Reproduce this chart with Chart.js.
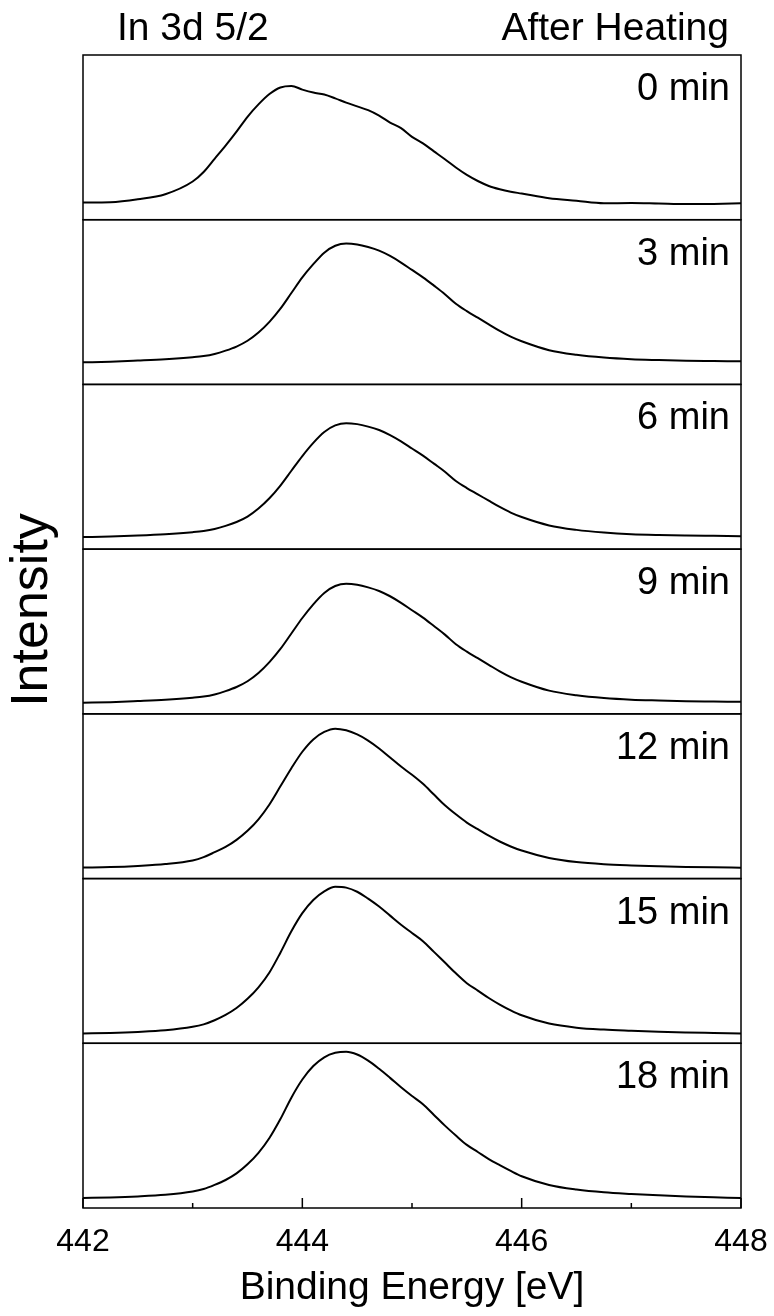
<!DOCTYPE html>
<html>
<head>
<meta charset="utf-8">
<title>In 3d 5/2 After Heating</title>
<script src="https://cdn.jsdelivr.net/npm/chart.js@4.4.1/dist/chart.umd.min.js"></script>
<style>
  html, body { margin: 0; padding: 0; background: #fff; }
  #wrap { width: 774px; height: 1316px; position: relative; }
</style>
</head>
<body>
<div id="wrap"><canvas id="xpsChart"></canvas></div>
<script>
// Binding energy grid [eV] (denser around the peak)
const energies = [442.0, 442.25, 442.5, 442.75,
    443.0, 443.1, 443.2, 443.3, 443.4, 443.5, 443.6, 443.7, 443.8, 443.9,
    444.0, 444.1, 444.2, 444.3, 444.4, 444.5, 444.6, 444.7, 444.8, 444.9,
    445.0, 445.1, 445.2, 445.3, 445.4, 445.5, 445.6, 445.7, 445.8, 445.9,
    446.0, 446.25, 446.5, 446.75, 447.0, 447.25, 447.5, 447.75, 448.0];

// Heating time of each panel, top to bottom
const panelLabels = ["0 min", "3 min", "6 min", "9 min", "12 min", "15 min", "18 min"];

// Intensity (fraction of panel height) for each heating time
const int0min = [0.104, 0.106, 0.124, 0.155,
    0.232, 0.29, 0.37, 0.45, 0.535, 0.625, 0.70, 0.763, 0.803, 0.812,
    0.79, 0.772, 0.76, 0.737, 0.711, 0.688, 0.665, 0.632, 0.59, 0.556,
    0.503, 0.463, 0.415, 0.367, 0.317, 0.272, 0.235, 0.205, 0.185, 0.17,
    0.159, 0.13, 0.115, 0.10, 0.101, 0.098, 0.095, 0.096, 0.10];
const int3min = [0.134, 0.138, 0.145, 0.153,
    0.165, 0.172, 0.185, 0.205, 0.23, 0.265, 0.315, 0.38, 0.46, 0.555,
    0.65, 0.73, 0.80, 0.842, 0.856, 0.85, 0.834, 0.812, 0.78, 0.74,
    0.695, 0.65, 0.60, 0.548, 0.49, 0.445, 0.405, 0.365, 0.325, 0.29,
    0.262, 0.208, 0.18, 0.163, 0.153, 0.148, 0.144, 0.142, 0.14];
const int6min = [0.073, 0.077, 0.083, 0.091,
    0.103, 0.11, 0.122, 0.141, 0.165, 0.198, 0.247, 0.309, 0.386, 0.476,
    0.565, 0.645, 0.711, 0.751, 0.765, 0.759, 0.744, 0.723, 0.692, 0.654,
    0.611, 0.568, 0.519, 0.47, 0.414, 0.371, 0.333, 0.294, 0.256, 0.222,
    0.195, 0.144, 0.117, 0.101, 0.091, 0.086, 0.083, 0.081, 0.079];
const int9min = [0.067, 0.071, 0.078, 0.086,
    0.098, 0.105, 0.118, 0.138, 0.163, 0.198, 0.248, 0.314, 0.394, 0.488,
    0.582, 0.665, 0.734, 0.776, 0.79, 0.784, 0.768, 0.746, 0.714, 0.674,
    0.629, 0.584, 0.533, 0.481, 0.423, 0.378, 0.338, 0.298, 0.258, 0.223,
    0.195, 0.141, 0.113, 0.096, 0.086, 0.081, 0.077, 0.075, 0.073];
const int12min = [0.067, 0.07, 0.077, 0.088,
    0.11, 0.13, 0.16, 0.192, 0.235, 0.29, 0.36, 0.45, 0.56, 0.67,
    0.77, 0.845, 0.89, 0.91, 0.90, 0.875, 0.838, 0.79, 0.735, 0.68,
    0.63, 0.575, 0.51, 0.445, 0.39, 0.34, 0.30, 0.26, 0.225, 0.195,
    0.17, 0.125, 0.10, 0.087, 0.08, 0.075, 0.071, 0.068, 0.066];
const int15min = [0.06, 0.063, 0.069, 0.079,
    0.10, 0.115, 0.14, 0.172, 0.214, 0.27, 0.34, 0.43, 0.55, 0.68,
    0.79, 0.87, 0.922, 0.95, 0.945, 0.92, 0.878, 0.83, 0.775, 0.72,
    0.67, 0.62, 0.555, 0.49, 0.425, 0.365, 0.32, 0.275, 0.235, 0.20,
    0.17, 0.12, 0.095, 0.083, 0.076, 0.07, 0.066, 0.063, 0.06];
const int18min = [0.061, 0.064, 0.07, 0.08,
    0.10, 0.115, 0.14, 0.17, 0.21, 0.265, 0.335, 0.425, 0.54, 0.67,
    0.78, 0.862, 0.915, 0.942, 0.949, 0.932, 0.895, 0.845, 0.79, 0.733,
    0.68, 0.63, 0.565, 0.50, 0.44, 0.383, 0.34, 0.297, 0.26, 0.225,
    0.193, 0.14, 0.112, 0.095, 0.085, 0.077, 0.07, 0.065, 0.06];

const seriesList = [int0min, int3min, int6min, int9min, int12min, int15min, int18min];

// X axis ticks: every 1 eV, labels only on the even ones
const xTicks = [442, 443, 444, 445, 446, 447, 448];
const xTickLabels = [442, 444, 446, 448];

const FONT = "'Liberation Sans', Arial, sans-serif";

/**
 * Panel frames, inward tick marks, panel labels and header texts.
 */
const panelPlugin = {
    id: 'panelPlugin',
    afterDatasetsDraw(chart) {
        const ctx = chart.ctx;
        const area = chart.chartArea;
        const xScale = chart.scales.x;

        ctx.save();
        ctx.strokeStyle = '#000';
        ctx.fillStyle = '#000';
        ctx.lineWidth = 1.5;

        // frame + label of every panel
        ctx.font = '38px ' + FONT;
        ctx.textAlign = 'right';
        ctx.textBaseline = 'alphabetic';
        panelLabels.forEach((label, i) => {
            const s = chart.scales['y' + i];
            ctx.strokeRect(area.left, s.top, area.right - area.left, s.bottom - s.top);
            ctx.fillText(label, area.right - 11, s.top + 45);
        });

        // tick marks point into the bottom panel
        xTicks.forEach(v => {
            const px = xScale.getPixelForValue(v);
            const len = xTickLabels.includes(v) ? 10 : 5;
            ctx.beginPath();
            ctx.moveTo(px, area.bottom);
            ctx.lineTo(px, area.bottom - len);
            ctx.stroke();
        });

        // header texts
        ctx.font = '39px ' + FONT;
        ctx.textAlign = 'left';
        ctx.fillText('In 3d 5/2', 117, 40);
        ctx.textAlign = 'right';
        ctx.fillText('After Heating', 729, 40);

        // y axis title
        ctx.font = '52px ' + FONT;
        ctx.translate(33, 610);
        ctx.rotate(-Math.PI / 2);
        ctx.textAlign = 'center';
        ctx.textBaseline = 'middle';
        ctx.fillText('Intensity', 0, 0);
        ctx.restore();
    }
};

// one stacked y axis per panel, first one on top
const yScales = {};
panelLabels.forEach((label, i) => {
    yScales['y' + i] = {
        type: 'linear',
        position: 'left',
        stack: 'panels',
        stackWeight: 1,
        weight: panelLabels.length - i,
        min: 0,
        max: 1,
        ticks: { display: false },
        grid: { display: false, drawTicks: false },
        border: { display: false },
        afterFit: scale => { scale.width = 0; }
    };
});

const datasets = seriesList.map((series, i) => ({
    label: panelLabels[i],
    yAxisID: 'y' + i,
    data: energies.map((e, k) => ({ x: e, y: series[k] })),
    borderColor: '#000',
    borderWidth: 2,
    pointRadius: 0,
    fill: false,
    cubicInterpolationMode: 'monotone'
}));

var ctx = document.getElementById('xpsChart');
var xpsChart = new Chart(ctx, {
    type: 'line',
    data: { datasets: datasets },
    options: {
        responsive: true,
        maintainAspectRatio: false,
        animation: false,
        layout: { padding: { left: 83, right: 33, top: 55, bottom: 0 } },
        plugins: {
            legend: { display: false },
            tooltip: { enabled: false }
        },
        scales: Object.assign({
            x: {
                type: 'linear',
                position: 'bottom',
                min: 442,
                max: 448,
                afterBuildTicks: scale => { scale.ticks = xTicks.map(v => ({ value: v })); },
                afterFit: scale => {
                    scale.height = 108;
                    scale.paddingLeft = 0;
                    scale.paddingRight = 0;
                },
                ticks: {
                    autoSkip: false,
                    maxRotation: 0,
                    padding: 15,
                    color: '#000',
                    font: { family: FONT, size: 32 },
                    callback: v => xTickLabels.includes(v) ? String(v) : ''
                },
                grid: { display: false, drawTicks: false },
                border: { display: false },
                title: {
                    display: true,
                    text: 'Binding Energy [eV]',
                    color: '#000',
                    font: { family: FONT, size: 39 },
                    padding: { top: 0, bottom: 4 }
                }
            }
        }, yScales)
    },
    plugins: [panelPlugin]
});
</script>
</body>
</html>
